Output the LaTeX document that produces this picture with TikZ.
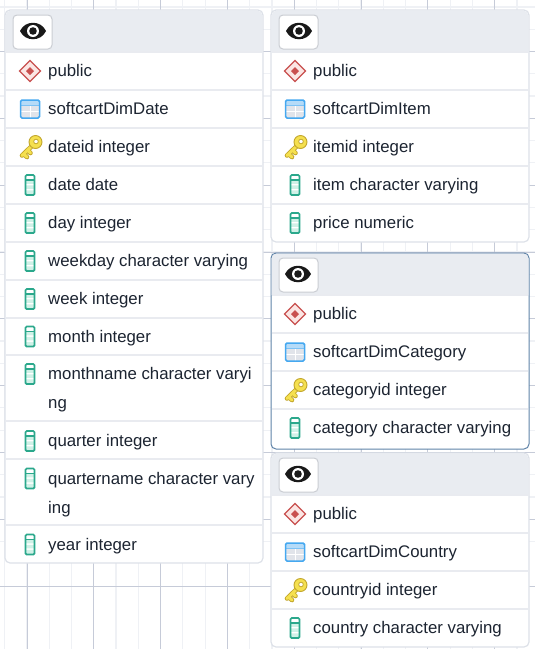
\documentclass[tikz,border=0pt]{standalone}
\usepackage{fontspec}
\setmainfont{Liberation Sans}
\definecolor{mgrid}{HTML}{C6CBD8}
\definecolor{lgrid}{HTML}{EFF1F5}
\definecolor{mborder}{HTML}{DDE1E8}
\definecolor{mblue}{HTML}{5F83A8}
\definecolor{mhead}{HTML}{E9ECF1}
\definecolor{mline}{HTML}{E9EBF0}
\definecolor{mtext}{HTML}{1C2431}
\definecolor{mred}{HTML}{C9504F}
\definecolor{mpink}{HTML}{FBE6E4}
\definecolor{mtab}{HTML}{45A8F0}
\definecolor{mtabh}{HTML}{B5DBF8}
\definecolor{mtabc}{HTML}{E1E4EA}
\definecolor{mkey}{HTML}{F5E04F}
\definecolor{mkeyd}{HTML}{C2A62C}
\definecolor{mcol}{HTML}{2BA88C}
\definecolor{mcolf}{HTML}{D0F1E7}
\tikzset{x=1pt, y=-1pt}
\tikzset{card/.style = {draw=mborder, line width=1.2, fill=white, rounded corners=5}}
\tikzset{selcard/.style = {card, draw=mblue, line width=1}}
\tikzset{head/.style = {fill=mhead}}
\tikzset{sep/.style = {draw=mline, line width=1.5}}
\tikzset{rowtext/.style = {anchor=base west, inner sep=0, text=mtext, font=\fontsize{16.8}{29}\selectfont}}
\tikzset{eyebtn/.style = {draw=mborder!80!gray, line width=1, fill=white, rounded corners=4}}
\tikzset{pics/schemaicon/.style = {code = {
  \draw [mred, fill=mpink, line width=1.3] (-10.5, 0) -- (0, -10.5) -- (10.5, 0) -- (0, 10.5) -- cycle;
  \fill [mred] (-4, 0) -- (0, -4) -- (4, 0) -- (0, 4) -- cycle;
}}}
\tikzset{pics/tableicon/.style = {code = {
  \fill [mtabc, rounded corners=1] (-9.5, -9) rectangle (9.5, 9);
  \fill [mtabh] (-9.5, -9) rectangle (9.5, -3.5);
  \draw [white, line width=0.9] (-9.5, 2.5) -- (9.5, 2.5) (0, -3) -- (0, 9);
  \draw [mtab!70!white, line width=0.9] (-9.5, -3.2) -- (9.5, -3.2);
  \draw [mtab, line width=1.5, rounded corners=1.5] (-9.5, -9) rectangle (9.5, 9);
}}}
\tikzset{pics/keyicon/.style = {code = {
  \draw [mkeyd, line width=4.6, line cap=round] (5, -4) -- (-8, 8.5) (-6.5, 7) -- (-3, 10) (-2.5, 3) -- (0.5, 6);
  \draw [mkey, line width=2.9, line cap=round] (5, -4) -- (-8, 8.5) (-6.5, 7) -- (-3, 10) (-2.5, 3) -- (0.5, 6);
  \draw [mkeyd, fill=mkey, line width=0.9] (5.5, -5) circle [radius=6.5];
  \draw [mkeyd, fill=white, line width=0.8] (6, -5.5) circle [radius=2.3];
}}}
\tikzset{pics/columnicon/.style = {code = {
  \fill [white] (-4.5, -10) rectangle (4.5, 10);
  \fill [mcolf] (-4.5, -4.5) rectangle (4.5, -1.2) (-4.5, 0.4) rectangle (4.5, 3.8) (-4.5, 5.4) rectangle (4.5, 10);
  \draw [mcol, line width=1.2] (-4.5, -5) -- (4.5, -5);
  \draw [mcol, line width=1.7, rounded corners=1.2] (-4.5, -10) rectangle (4.5, 10);
}}}
\tikzset{pics/eyeicon/.style = {code = {
  \fill [black!90] (-13, 0) .. controls (-8, -11) and (8, -11) .. (13, 0)
    .. controls (8, 11) and (-8, 11) .. (-13, 0) -- cycle;
  \fill [white] (0, 0) circle [radius=6];
  \fill [black!90] (0, 0) circle [radius=3.8];
}}}
\begin{document}
\begin{tikzpicture}
  \useasboundingbox (0, 0) rectangle (535, 649);
  \begin{scope}
    \clip (0, 0) rectangle (535, 649);
    \foreach \k in {-1,...,24}{
      \draw [lgrid, line width=1.2] ({27 + 22.27*\k - 22.27}, 0) -- ++(0, 649);
      \draw [lgrid, line width=1.2] (0, {7 + 22.27*\k}) -- ++(535, 0);
    }
    \foreach \k in {0,...,8}{
      \draw [mgrid, line width=0.9] ({27 + 66.8*\k}, 0) -- ++(0, 649);
      \draw [mgrid, line width=0.9] (0, {51.6 + 66.8*\k}) -- ++(535, 0);
    }
  \end{scope}
  % date table
  \draw [card] (5, 10) rectangle (263, 563);
  \fill [head] (5.6, 52) [rounded corners=5] -- (5.6, 10.6) -- (262.4, 10.6) [sharp corners] -- (262.4, 52) -- cycle;
  \foreach \y in {52,90,128,166,204,242,280,318,355,421,459,525}{
    \draw [sep] (5.6, \y) -- (262.4, \y);
  }
  \draw [eyebtn] (13, 15) rectangle (52, 49);
  \pic at (33, 31) {eyeicon};
  \foreach \rowname/\rowy/\icon/\label in {
    dschema/71/schemaicon/public,
    dtable/109/tableicon/softcartDimDate,
    dkey/147/keyicon/dateid integer,
    dcol/185/columnicon/date date,
    dday/223/columnicon/day integer,
    dweekday/261/columnicon/weekday character varying,
    dweek/299/columnicon/week integer,
    dmonth/336.5/columnicon/month integer,
    dname/374/columnicon/{\parbox[t]{215pt}{monthname character varyi\\ng}},
    dquarter/441/columnicon/quarter integer,
    dqname/478.5/columnicon/{\parbox[t]{215pt}{quartername character vary\\ing}},
    dyear/544.5/columnicon/year integer}{
    \pic at (30, \rowy) {\icon};
    \node (\rowname) [rowtext] at (48, \rowy + 5.5) {\label};
  }
  % item table
  \draw [card] (271, 10) rectangle (529, 242);
  \fill [head] (271.6, 52) [rounded corners=5] -- (271.6, 10.6) -- (528.4, 10.6) [sharp corners] -- (528.4, 52) -- cycle;
  \foreach \y in {52,90,128,166,204}{
    \draw [sep] (271.6, \y) -- (528.4, \y);
  }
  \draw [eyebtn] (279, 15) rectangle (318, 49);
  \pic at (299, 31) {eyeicon};
  \foreach \rowname/\rowy/\icon/\label in {
    ischema/71/schemaicon/public,
    itable/109/tableicon/softcartDimItem,
    ikey/147/keyicon/itemid integer,
    icol/185/columnicon/item character varying,
    iprice/223/columnicon/price numeric}{
    \pic at (295, \rowy) {\icon};
    \node (\rowname) [rowtext] at (313, \rowy + 5.5) {\label};
  }
  % category table
  \draw [selcard] (271, 253) rectangle (529, 449);
  \fill [head] (271.6, 295) [rounded corners=5] -- (271.6, 253.6) -- (528.4, 253.6) [sharp corners] -- (528.4, 295) -- cycle;
  \foreach \y in {295,333,371,409}{
    \draw [sep] (271.6, \y) -- (528.4, \y);
  }
  \draw [eyebtn] (279, 258) rectangle (318, 292);
  \pic at (298, 274) {eyeicon};
  \foreach \rowname/\rowy/\icon/\label in {
    cschema/314/schemaicon/public,
    ctable/352/tableicon/softcartDimCategory,
    ckey/390/keyicon/categoryid integer,
    ccol/428/columnicon/category character varying}{
    \pic at (295, \rowy) {\icon};
    \node (\rowname) [rowtext] at (313, \rowy + 5.5) {\label};
  }
  % country table
  \draw [card] (271, 453) rectangle (529, 647);
  \fill [head] (271.6, 495) [rounded corners=5] -- (271.6, 453.6) -- (528.4, 453.6) [sharp corners] -- (528.4, 495) -- cycle;
  \foreach \y in {495,533,571,609}{
    \draw [sep] (271.6, \y) -- (528.4, \y);
  }
  \draw [eyebtn] (279, 458) rectangle (318, 492);
  \pic at (298, 474) {eyeicon};
  \foreach \rowname/\rowy/\icon/\label in {
    uschema/514/schemaicon/public,
    utable/552/tableicon/softcartDimCountry,
    ukey/590/keyicon/countryid integer,
    ucol/628/columnicon/country character varying}{
    \pic at (295, \rowy) {\icon};
    \node (\rowname) [rowtext] at (313, \rowy + 5.5) {\label};
  }
\end{tikzpicture}
\end{document}
